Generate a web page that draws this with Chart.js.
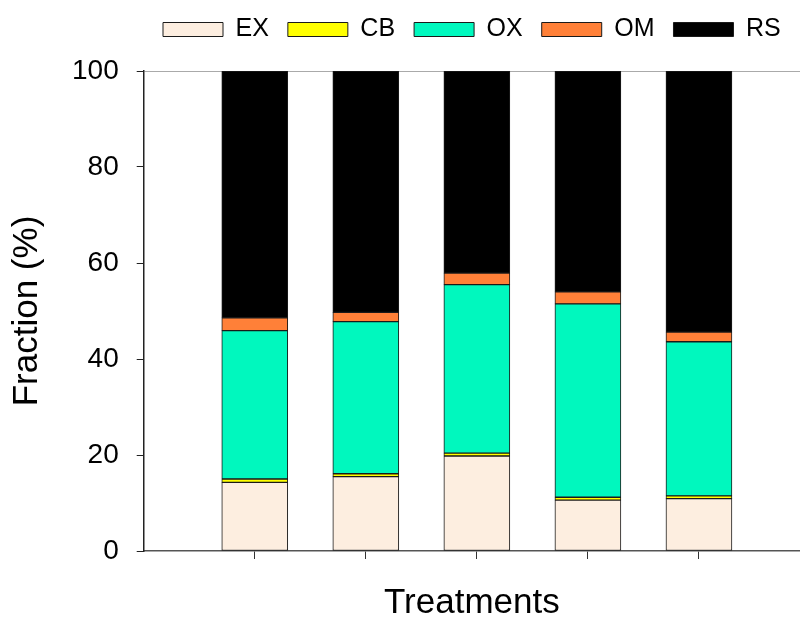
<!DOCTYPE html>
<html>
<head>
<meta charset="utf-8">
<script src="https://cdn.jsdelivr.net/npm/chart.js"></script>
<style>
  html, body { margin: 0; padding: 0; background: #fff; }
  #wrap { width: 800px; height: 621px; }
</style>
</head>
<body>
<div id="wrap"><canvas id="fracChart" width="800" height="621"></canvas></div>
<script>
// treatment positions on the x axis (no labels shown in the figure)
const treatments = [1, 2, 3, 4, 5];

// fractions in %
const exVals = [14.3, 15.5, 19.8, 10.6, 10.9];
const cbVals = [0.7, 0.6, 0.6, 0.6, 0.6];
const oxVals = [30.9, 31.7, 35.1, 40.3, 32.1];
const omVals = [2.7, 1.9, 2.4, 2.5, 2.0];
const rsVals = [51.4, 50.3, 42.1, 46.0, 54.4];

const yTicks = [0, 20, 40, 60, 80, 100];

const font = "'Liberation Sans', Arial, sans-serif";

function ds(label, data, color) {
    return {
        label: label,
        data: data,
        backgroundColor: color,
        borderColor: '#1a1a1a',
        borderWidth: 1,
        borderSkipped: false,
        barThickness: 66
    };
}

// extra space under the legend
const legendGap = {
    id: 'legendGap',
    beforeInit(chart) {
        const fit = chart.legend.fit;
        chart.legend.fit = function () {
            fit.bind(chart.legend)();
            this.height += 19;
        };
    }
};

const ctx = document.getElementById('fracChart').getContext('2d');
new Chart(ctx, {
    type: 'bar',
    data: {
        labels: treatments,
        datasets: [
            ds('EX', exVals, '#fdeee0'),
            ds('CB', cbVals, '#ffff00'),
            ds('OX', oxVals, '#00f8be'),
            ds('OM', omVals, '#ff8038'),
            ds('RS', rsVals, '#000000')
        ]
    },
    options: {
        responsive: false,
        animation: false,
        layout: { padding: { top: -2, right: 0, bottom: 0, left: 6 } },
        plugins: {
            tooltip: { enabled: false },
            legend: {
                position: 'top',
                fullSize: false,
                labels: {
                    boxWidth: 60,
                    boxHeight: 14,
                    padding: 19,
                    color: '#000',
                    font: { family: font, size: 25 }
                }
            }
        },
        scales: {
            x: {
                type: 'linear',
                stacked: true,
                offset: false,
                min: 0,
                max: 5.91,
                afterBuildTicks: axis => { axis.ticks = treatments.map(v => ({ value: v })); },
                ticks: { display: false },
                grid: { offset: false, drawOnChartArea: false, drawTicks: true, tickLength: 8, color: '#333' },
                border: { color: '#555', width: 1.5 },
                title: {
                    display: true,
                    text: 'Treatments',
                    color: '#000',
                    font: { family: font, size: 35, lineHeight: 1 },
                    padding: { top: 27, bottom: 0 }
                }
            },
            y: {
                stacked: true,
                min: 0,
                max: 100,
                afterBuildTicks: axis => { axis.ticks = yTicks.map(v => ({ value: v })); },
                ticks: {
                    color: '#000',
                    padding: 18,
                    font: { family: font, size: 28 }
                },
                grid: {
                    drawOnChartArea: true,
                    tickLength: 7,
                    tickColor: '#222',
                    color: c => (c.tick && c.tick.value === 100) ? '#aaaaaa' : 'rgba(0,0,0,0)'
                },
                border: { color: '#222', width: 1.5 },
                title: {
                    display: true,
                    text: 'Fraction (%)',
                    color: '#000',
                    font: { family: font, size: 35 },
                    padding: { top: 0, bottom: 6 }
                }
            }
        }
    },
    plugins: [legendGap]
});
</script>
</body>
</html>
